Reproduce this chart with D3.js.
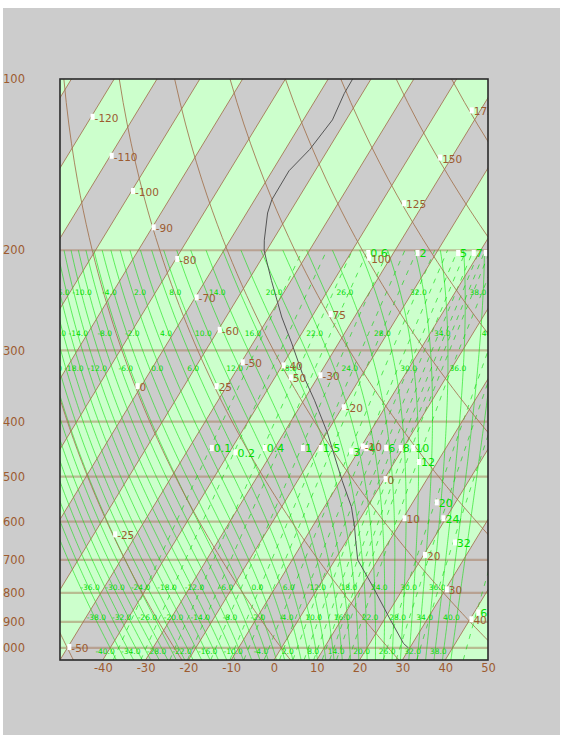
<!DOCTYPE html>
<html>
<head>
<meta charset="utf-8">
<script src="https://cdn.jsdelivr.net/npm/d3@7"></script>
<style>
  html, body { margin: 0; padding: 0; background: #ffffff; }
  #chart { position: absolute; left: 3px; top: 8px; background: #cccccc; overflow: hidden; }
</style>
</head>
<body>
<svg id="chart" width="557" height="727"></svg>
<script>
// ---- Axes ----
const pressureTicks = [100, 200, 300, 400, 500, 600, 700, 800, 900, 1000];
const tempTicks = [-40, -30, -20, -10, 0, 10, 20, 30, 40, 50];
const isobars = [200, 300, 400, 500, 600, 700, 800, 900, 1000];

// ---- Isotherms (every 10 °C, alternating shaded bands) ----
const isotherms = [-140, -130, -120, -110, -100, -90, -80, -70, -60, -50, -40,
                   -30, -20, -10, 0, 10, 20, 30, 40, 50];
const isothermLabelT = [-120, -110, -100, -90, -80, -70, -60, -50, -40, -30, -20, -10, 0, 10, 20, 30, 40];
const isothermLabelP = [117, 137, 158, 183, 208, 243, 277, 316, 320, 333, 379, 444, 507, 594, 689, 792, 894];

// ---- Dry adiabats (potential temperature, °C) ----
const dryAdiabats = [-50, -25, 0, 25, 50, 75, 100, 125, 150, 175];
const dryLabelP = [1000, 634, 348, 348, 336, 260, 207, 166, 138, 114];

// ---- Saturated (pseudo) adiabats, labelled by wet-bulb potential temperature ----
const moistAdiabats = [-40, -38, -36, -34, -32, -30, -28, -26, -24, -22, -20, -18, -16, -14,
                       -12, -10, -8, -6, -4, -2, 0, 2, 4, 6, 8, 10, 12, 14, 16, 18, 20,
                       22, 24, 26, 28, 30, 32, 34, 36, 38, 40];
// label rows: adiabats sharing a row repeat every 6 °C
const moistRowStart = [-40, -38, -36];
const moistRowLowP = [1013, 883, 782];
const moistRowHighP = [237, 280, 323];

// ---- Saturation mixing ratio lines (g/kg) ----
const mixingRatios = [0.1, 0.2, 0.4, 0.6, 1, 1.5, 2, 3, 4, 5, 6, 7, 8, 9, 10, 12, 20, 24, 32, 60];
const mixingLabelP = [447, 455, 447, 203, 447, 447, 203, 453, 447, 203, 447, 203, 447, 203, 447, 473, 557, 594, 655, 870];

// ---- Temperature sounding ----
const soundingP = [100, 106, 118, 133, 145, 163, 172, 192, 200, 208, 226, 262, 291, 329, 367,
                   419, 473, 508, 565, 613, 646, 700, 776, 886, 982, 1000];
const soundingT = [-64.3, -64.2, -63.2, -64.3, -66.1, -66.0, -65.1, -62.0, -60.6, -58.7, -54.6,
                   -47.0, -41.0, -34.2, -27.5, -19.8, -13.4, -9.6, -3.7, -0.1, 2.0, 5.3, 12.3,
                   21.0, 27.9, 29.7];

// ---- Styling ----
const brown = "#9c5b30";
const lineBrown = "#a2724e";
const green = "#00dd00";
const font = "DejaVu Sans, Verdana, sans-serif";

const W = 428, H = 581;
const svg = d3.select("#chart");
const g = svg.append("g").attr("transform", "translate(57,71)");

const xScale = d3.scaleLinear().domain([-50, 50]).range([0, W]);
const yScale = d3.scaleLog().domain([1050, 100]).range([H, 0]);
const skew = 0.609;
const X = (t, p) => xScale(t) + skew * (H - yScale(p));

// thermodynamics
const Rd = 287.04, Cp = 1005.7, Lv = 2.501e6, eps = 0.622;
const kappa = 0.286;
const esat = tc => 6.112 * Math.exp(17.67 * tc / (tc + 243.5));
function moistLapse(p, Tk) {
  const e = esat(Tk - 273.15);
  const rs = eps * e / (p - e);
  return (Rd * Tk + Lv * rs) / (p * (Cp + Lv * Lv * rs * eps / (Rd * Tk * Tk)));
}
function rk4(p, T, dp) {
  const k1 = moistLapse(p, T);
  const k2 = moistLapse(p + dp / 2, T + k1 * dp / 2);
  const k3 = moistLapse(p + dp / 2, T + k2 * dp / 2);
  const k4 = moistLapse(p + dp, T + k3 * dp);
  return T + dp * (k1 + 2 * k2 + 2 * k3 + k4) / 6;
}
function moistProfile(thw) {
  let T = thw + 273.15, p = 1000;
  while (p < 1050) { T = rk4(p, T, 5); p += 5; }
  const pts = [];
  for (p = 1050; p >= 200; p -= 5) {
    pts.push({ p, t: T - 273.15 });
    if (p > 200) T = rk4(p, T, -5);
  }
  return pts;
}
function moistTempAt(profile, p) {
  for (let i = 0; i < profile.length - 1; i++) {
    const a = profile[i], b = profile[i + 1];
    if (p <= a.p && p >= b.p) return a.t + (b.t - a.t) * (a.p - p) / (a.p - b.p);
  }
  return profile[profile.length - 1].t;
}
function dewFromMixing(w, p) {
  const e = w * p / (622 + w);
  const l = Math.log(e / 6.112);
  let td = 243.5 * l / (17.67 - l);
  if (td < 0) td = 272.62 * l / (22.46 - l);
  return td;
}
const dryTemp = (theta, p) => (theta + 273.15) * Math.pow(p / 1000, kappa) - 273.15;

const line = d3.line().x(d => X(d.t, d.p)).y(d => yScale(d.p));

// clip region
g.append("clipPath").attr("id", "plotClip")
  .append("rect").attr("width", W).attr("height", H);
const plot = g.append("g").attr("clip-path", "url(#plotClip)");

plot.append("rect").attr("width", W).attr("height", H).attr("fill", "#cccccc");

// shaded isotherm bands
const bandStarts = isotherms.filter(t => ((Math.floor(t / 10) % 2) + 2) % 2 === 0);
plot.append("g").selectAll("path").data(bandStarts).join("path")
  .attr("d", t => {
    const pts = [[X(t, 1050), H], [X(t + 10, 1050), H], [X(t + 10, 100), 0], [X(t, 100), 0]];
    return d3.line()(pts) + "Z";
  })
  .attr("fill", "#ccffcc");

// isobars
plot.append("g").selectAll("line").data(isobars).join("line")
  .attr("x1", 0).attr("x2", W)
  .attr("y1", d => yScale(d)).attr("y2", d => yScale(d))
  .attr("stroke", "#a06c4c").attr("stroke-opacity", 0.45).attr("stroke-width", 2.2);

// moist adiabats
const moistProfiles = moistAdiabats.map(th => ({ th, pts: moistProfile(th) }));
plot.append("g").selectAll("path").data(moistProfiles).join("path")
  .attr("d", d => line(d.pts))
  .attr("fill", "none").attr("stroke", "#00e000").attr("stroke-opacity", 0.55).attr("stroke-width", 1);

// mixing ratio lines
const mixPressures = d3.range(1050, 199, -10);
plot.append("g").selectAll("path").data(mixingRatios).join("path")
  .attr("d", w => line(mixPressures.map(p => ({ p, t: dewFromMixing(w, p) }))))
  .attr("fill", "none").attr("stroke", "#00d800").attr("stroke-opacity", 0.6)
  .attr("stroke-width", 1).attr("stroke-dasharray", "5,6");

// dry adiabats
const dryPressures = d3.range(1050, 99, -10);
plot.append("g").selectAll("path").data(dryAdiabats).join("path")
  .attr("d", th => line(dryPressures.map(p => ({ p, t: dryTemp(th, p) }))))
  .attr("fill", "none").attr("stroke", lineBrown).attr("stroke-opacity", 0.85).attr("stroke-width", 1);

// isotherms
plot.append("g").selectAll("line").data(isotherms).join("line")
  .attr("x1", t => X(t, 1050)).attr("y1", H)
  .attr("x2", t => X(t, 100)).attr("y2", 0)
  .attr("stroke", lineBrown).attr("stroke-opacity", 0.85).attr("stroke-width", 1);

// sounding
plot.append("path")
  .datum(soundingP.map((p, i) => ({ p, t: soundingT[i] })))
  .attr("d", line)
  .attr("fill", "none").attr("stroke", "#555555").attr("stroke-width", 1);

// moist adiabat labels
const moistLabels = [];
moistRowStart.forEach((s, r) => {
  moistProfiles.filter(d => ((d.th - s) % 6 + 6) % 6 === 0).forEach(d => {
    [moistRowLowP[r], moistRowHighP[r]].forEach(p => {
      moistLabels.push({ th: d.th, p, t: moistTempAt(d.pts, p) });
    });
  });
});
plot.append("g").selectAll("text").data(moistLabels).join("text")
  .attr("x", d => X(d.t, d.p) + 3).attr("y", d => yScale(d.p))
  .attr("text-anchor", "end").attr("dominant-baseline", "central")
  .attr("font-family", font).attr("font-size", 7.5).attr("fill", green)
  .text(d => d.th.toFixed(1));

// labels with a small white marker at the anchor point
function boxLabels(data, color, size) {
  const lg = plot.append("g");
  const items = lg.selectAll("g").data(data).join("g")
    .attr("transform", d => `translate(${d.x},${d.y})`);
  items.append("rect").attr("x", 0).attr("y", -4).attr("width", 4).attr("height", 6).attr("fill", "#ffffff");
  items.append("text").attr("x", 4).attr("y", 0).attr("dominant-baseline", "central")
    .attr("font-family", font).attr("font-size", size).attr("fill", color)
    .text(d => d.text);
}

boxLabels(mixingRatios.map((w, i) => {
  const p = mixingLabelP[i];
  return { x: X(dewFromMixing(w, p), p), y: yScale(p), text: String(w) };
}), green, 11);

boxLabels(isothermLabelT.map((t, i) => {
  const p = isothermLabelP[i];
  return { x: X(t, p), y: yScale(p), text: String(t) };
}), brown, 10.5);

boxLabels(dryAdiabats.map((th, i) => {
  const p = dryLabelP[i];
  return { x: X(dryTemp(th, p), p), y: yScale(p), text: String(th) };
}), brown, 10.5);

// frame
g.append("rect").attr("width", W).attr("height", H)
  .attr("fill", "none").attr("stroke", "#2a2a2a").attr("stroke-width", 1.6);

// axes
const xAxis = d3.axisBottom(xScale).tickValues(tempTicks).tickSize(0).tickPadding(4)
  .tickFormat(d => String(d));
const yAxis = d3.axisLeft(yScale).tickValues(pressureTicks).tickSize(0).tickPadding(35)
  .tickFormat(d => String(d));

const styleAxis = a => {
  a.select(".domain").remove();
  a.attr("font-family", font).attr("font-size", 11.5);
  a.selectAll("text").attr("fill", brown);
};
g.append("g").attr("transform", `translate(0,${H})`).call(xAxis).call(styleAxis);
g.append("g").call(yAxis).call(styleAxis);
</script>
</body>
</html>
